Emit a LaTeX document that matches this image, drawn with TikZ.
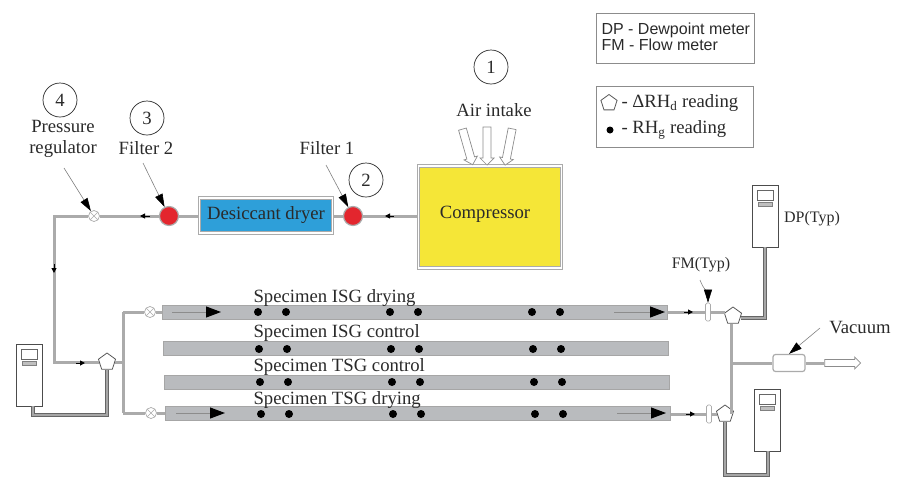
\documentclass[tikz,border=0pt]{standalone}
\usepackage{fontspec}
\setmainfont{Liberation Serif}
\setsansfont{Liberation Sans}
\usepackage{tikz}
\usetikzlibrary{calc, shapes.geometric, shapes.arrows, arrows.meta, positioning}
\definecolor{rigyellow}{HTML}{F5E637}
\definecolor{rigblue}{HTML}{2E9FD9}
\definecolor{rigred}{HTML}{E3262E}
\definecolor{riggray}{HTML}{B9BBBE}
\definecolor{rigline}{HTML}{ABABAB}
\definecolor{rigtext}{HTML}{2A2A2A}

\begin{document}
\begin{tikzpicture}[
  x=1pt, y=-1pt,
  every node/.style={text=rigtext, font=\fontsize{18.7}{21}\selectfont},
  plant/.style={rectangle, draw=rigline, double=white, double distance=1.2pt, line width=1pt, inner sep=0pt},
  bubble/.style={circle, draw=rigtext, line width=0.7pt, fill=white, minimum size=34pt, inner sep=0pt},
  filterdot/.style={circle, draw=rigline, line width=1.2pt, fill=rigred, minimum size=19pt, inner sep=0pt},
  valve/.style={circle, draw=rigline, line width=0.7pt, fill=white, minimum size=11pt, inner sep=0pt,
    path picture={\draw[rigline, line width=0.5pt] (path picture bounding box.north west)--(path picture bounding box.south east)
      (path picture bounding box.north east)--(path picture bounding box.south west);}},
  penta/.style={regular polygon, regular polygon sides=5, draw=black!65, line width=0.8pt, fill=white, minimum size=18pt, inner sep=0pt},
  tube/.style={rectangle, draw=black!35, line width=0.8pt, fill=riggray, minimum width=505pt, minimum height=14pt, inner sep=0pt},
  probe/.style={circle, fill=black, minimum size=8pt, inner sep=0pt},
  flowmeter/.style={rectangle, rounded corners=1.5pt, draw=rigline, line width=0.7pt, fill=white, minimum width=5pt, minimum height=18pt, inner sep=0pt},
  meter/.style={rectangle, draw=black!70, line width=0.8pt, fill=white, minimum width=26pt, minimum height=62pt, inner sep=0pt},
  metershow/.style={rectangle, draw=black!60, line width=0.6pt, minimum width=16pt, minimum height=10pt, inner sep=0pt},
  meterkeys/.style={rectangle, draw=black!50, line width=0.5pt, fill=black!25, minimum width=14pt, minimum height=4pt, inner sep=0pt},
  legend/.style={rectangle, draw=black!45, line width=0.8pt, inner sep=0pt},
  hollow/.style={single arrow, draw=black!45, line width=0.7pt, fill=white, inner sep=3pt, font=\fontsize{1}{1}\selectfont, minimum width=14pt, single arrow head extend=2.5pt, single arrow head indent=0pt},
  pipe/.style={rigline, line width=3pt},
  twin/.style={black!60, line width=1pt, double=black!35, double distance=1.4pt},
  flow/.style={-{Triangle[length=5pt,width=5pt,color=black]}, black, line width=1pt},
  tubeflow/.style={-{Triangle[length=15pt,width=11pt,color=black]}, black!45, line width=1pt},
  lead/.style={-{Triangle[length=13pt,width=8pt,color=black]}, black!50, line width=0.6pt}]
\useasboundingbox (0,0) rectangle (902,477);
% compressor line
\node[plant, fill=rigyellow, minimum width=143pt, minimum height=102pt] (comp) at (490,217) {};
\node at (485,214) {Compressor};
\node[plant, fill=rigblue, minimum width=133pt, minimum height=35pt] (dryer) at (266,215.500) {Desiccant dryer};
\node[filterdot] (f1) at (353,216) {};
\node[filterdot] (f2) at (169,216) {};
\node[valve] (reg) at (94,216) {};
\node[bubble] (n1) at (491,67) {1};
\node[bubble] (n2) at (366,180) {2};
\node[bubble] (n3) at (147,118) {3};
\node[bubble] (n4) at (60,100) {4};
\node (airtxt) at (494,110) {Air intake};
\node (f1txt) at (327,148) {Filter 1};
\node (f2txt) at (146,148) {Filter 2};
\node[align=center] (regtxt) at (63,139) {Pressure\\regulator};
\node[hollow, minimum height=37pt, rotate=-74] (air1) at (467,145) {};
\node[hollow, minimum height=38pt, rotate=-90] (air2) at (487,144) {};
\node[hollow, minimum height=37pt, rotate=-101] (air3) at (509,145) {};
% specimens
\node[tube] (t1) at (414.500,312) {};
\node[tube] (t2) at (415.500,348.500) {};
\node[tube] (t3) at (416.500,382.500) {};
\node[tube] (t4) at (418,413.500) {};
\foreach \r/\d in {1/0, 2/1, 3/2, 4/3}{
  \foreach \x in {258,286,390,418,532,560}{
    \node[probe] at ($(\x,{\r==1 ? 312 : (\r==2 ? 349 : (\r==3 ? 382 : 414))})+(\d,0)$) {};
  }
}
\node[anchor=west] (s1) at (250,298) {Specimen ISG drying};
\node[anchor=west] (s2) at (250,333) {Specimen ISG control};
\node[anchor=west] (s3) at (250,367) {Specimen TSG control};
\node[anchor=west] (s4) at (250,400) {Specimen TSG drying};
% fittings
\node[penta] (pL) at (107,362) {};
\node[penta] (pT) at (733,316) {};
\node[penta] (pB) at (725,414) {};
\node[valve] (v1) at (150,312) {};
\node[valve] (v2) at (151,413) {};
\node[flowmeter] (fm1) at (708,312) {};
\node[flowmeter] (fm2) at (709,414) {};
\node[rectangle, rounded corners=2.5pt, draw=rigline, line width=1.2pt, fill=white, minimum width=32pt, minimum height=17pt, inner sep=0pt] (vac) at (789,363) {};
\node[hollow, minimum height=36pt, minimum width=12pt] (out) at (841,363) {};
% meters
\foreach \m/\x/\y in {mL/29/375, mT/765/216, mB/767/420}{
  \node[meter] (\m) at (\x,\y) {};
  \node[metershow, below=5pt of \m.north] (\m s) {};
  \node[meterkeys, below=2pt of \m s] (\m k) {};
}
\coordinate (jreg) at (54,216);
\coordinate (jleft) at (54,362);
\coordinate (jsplit) at (123,362);
\coordinate (jtop) at (123,312);
\coordinate (jbot) at (123,413);
\coordinate (jvac) at (731,363);
\coordinate (twinL) at (33,415);
\coordinate (twinLb) at (107,415);
\coordinate (twinT) at (765,318);
\coordinate (twinB) at (768,475);
\coordinate (twinBb) at (725,475);
% pipes
\draw[pipe] (comp.west |- f1) -- (f1);
\draw[pipe] (f1) -- (f1 -| dryer.east);
\draw[pipe] (f2 -| dryer.west) -- (f2);
\draw[pipe] (f2) -- (reg);
\draw[pipe] (reg) -- (jreg) -- (jleft) -- (pL);
\draw[pipe] (pL) -- (jsplit);
\draw[pipe] (jtop) -- (jbot);
\draw[pipe] (jtop) -- (v1);
\draw[pipe] (jbot) -- (v2);
\draw[pipe] (v1) -- (t1.west |- v1);
\draw[pipe] (v2) -- (t4.west |- v2);
\draw[pipe] (t1.east) -- (fm1);
\draw[pipe] (fm1) -- (fm1 -| pT.west);
\draw[pipe] (t4.east |- fm2) -- (fm2);
\draw[pipe] (fm2) -- (pB);
\draw[pipe] (pT.south -| jvac) -- (pB.east -| jvac);
\draw[pipe] (jvac) -- (vac);
\draw[pipe] (vac) -- (out);
% flow marks
\draw[flow] (394,216) -- (385,216);
\draw[flow] (150,216) -- (140,216);
\draw[flow] (54,264) -- (54,273);
\draw[flow] (76,363) -- (85,363);
\draw[flow] (684,312) -- (693,312);
\draw[flow] (686,414) -- (695,414);
\draw[tubeflow] (172,312) -- (221,312);
\draw[tubeflow] (614,312) -- (665,312);
\draw[tubeflow] (176,413) -- (225,413);
\draw[tubeflow] (617,413) -- (666,413);
% meter lines
\draw[twin] (mL.south -| twinL) -- (twinL) -- (twinLb) -- (pL);
\draw[twin] (mT.south) -- (twinT) -- (twinT -| pT.east);
\draw[twin] (mB.south -| twinB) -- (twinB) -- (twinBb) -- (pB);
% leaders
\coordinate (lreg) at (64,168);
\coordinate (lf2) at (143,163);
\coordinate (lf1) at (326,165);
\coordinate (lfm) at (700,280);
\coordinate (lvac) at (820,328);
\draw[lead] (lreg) -- (reg);
\draw[lead] (lf2) -- (f2);
\draw[lead] (lf1) -- (f1);
\draw[lead] (lfm) to[out=-70, in=90] (fm1.north);
\draw[lead] (lvac) -- (vac.north);
\node at (701,265) (fmtxt) {\fontsize{16}{17}\selectfont FM(Typ)};
\node at (812,219) (dptxt) {\fontsize{16}{17}\selectfont DP(Typ)};
\node at (860,328) (vactxt) {Vacuum};
% legends
\node[legend, minimum width=158pt, minimum height=50pt] (lg1) at (675,38) {};
\node[legend, minimum width=157pt, minimum height=61pt] (lg2) at (674.500,116.500) {};
\node[anchor=west, align=left, font=\sffamily\fontsize{16}{16}\selectfont] (lg1a) at (598,37) {DP - Dewpoint meter\\FM - Flow meter};
\node[penta, minimum size=17pt] (lgp) at (609,103) {};
\node[anchor=west] (lg2a) at (618,103) {- ΔRH\textsubscript{d} reading};
\node[probe, minimum size=7pt] (lgd) at (610,130) {};
\node[anchor=west] (lg2b) at (618,130) {- RH\textsubscript{g} reading};
\end{tikzpicture}
\end{document}
